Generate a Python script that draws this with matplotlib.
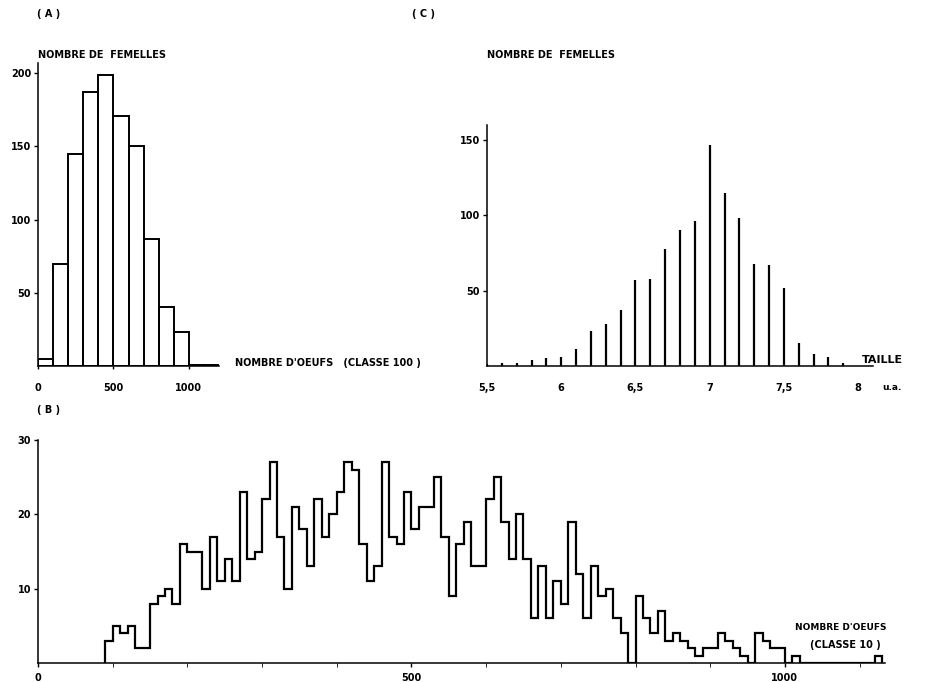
import numpy as np
import matplotlib
matplotlib.use("Agg")
import matplotlib.pyplot as plt

plt.rcParams['font.family'] = ['DejaVu Sans']
plt.rcParams['font.weight'] = 'bold'
plt.rcParams['font.size'] = 7

# (A) nombre de femelles par classe de 100 oeufs
a_edges = [0, 100, 200, 300, 400, 500, 600, 700, 800, 900, 1000, 1100]
a_counts = [5, 70, 145, 187, 199, 171, 150, 87, 40, 23, 1, 1]

# (C) nombre de femelles par taille (u.a.)
c_taille = [5.5, 5.6, 5.7, 5.8, 5.9, 6.0, 6.1, 6.2, 6.3, 6.4, 6.5, 6.6, 6.7,
            6.8, 6.9, 7.0, 7.1, 7.2, 7.3, 7.4, 7.5, 7.6, 7.7, 7.8, 7.9]
c_counts = [1, 2, 2, 4, 5, 6, 11, 23, 28, 37, 57, 58, 78,
            90, 96, 147, 115, 98, 68, 67, 52, 15, 8, 6, 2]

# (B) nombre de femelles par classe de 10 oeufs, a partir de 90 oeufs
b_start = 90
b_counts = [3, 5, 4, 5, 2, 2, 8, 9, 10, 8,
            16, 15, 15, 10, 17, 11, 14, 11, 23, 14,
            15, 22, 27, 17, 10, 21, 18, 13, 22, 17,
            20, 23, 27, 26, 16, 11, 13, 27, 17, 16,
            23, 18, 21, 21, 25, 17, 9, 16, 19, 13,
            13, 22, 25, 19, 14, 20, 14, 6, 13, 6,
            11, 8, 19, 12, 6, 13, 9, 10, 6, 4,
            0, 9, 6, 4, 7, 3, 4, 3, 2, 1,
            2, 2, 4, 3, 2, 1, 0, 4, 3, 2,
            2, 0, 1, 0, 0, 0, 0, 0, 0, 0,
            0, 0, 0, 1]

W, H = 927, 682


def box(x0, y0, x1, y1):
    # pixel box (top-left origin) -> figure fraction
    return [x0 / W, 1 - y1 / H, (x1 - x0) / W, (y1 - y0) / H]


def txt(x, y, s, **kw):
    fig.text(x / W, 1 - y / H, s, va='center', fontweight='bold', **kw)


def style(ax):
    for side in ['top', 'right']:
        ax.spines[side].set_visible(False)
    for side in ['left', 'bottom']:
        ax.spines[side].set_linewidth(1.1)
    ax.tick_params(width=1.0, length=3, labelsize=7, pad=2)


fig = plt.figure(figsize=(W / 100, H / 100), dpi=100)

# ---- (A)
ax_a = fig.add_axes(box(38, 63, 219, 366))
ax_a.bar(a_edges, a_counts, width=100, align='edge', fill=False,
         edgecolor='black', linewidth=1.4)
ax_a.set_xlim(0, 1200)
ax_a.set_ylim(0, 207)
ax_a.set_yticks([50, 100, 150, 200])
ax_a.set_xticks([0, 500, 1000])
style(ax_a)
ax_a.tick_params(axis='x', length=2, pad=10)

# ---- (C)
ax_c = fig.add_axes(box(487, 125, 873, 366))
ax_c.vlines(c_taille, 0, c_counts, color='black', linewidth=1.6)
ax_c.set_xlim(5.5, 8.1)
ax_c.set_ylim(0, 160)
ax_c.set_yticks([50, 100, 150])
ax_c.set_xticks([5.5, 6, 6.5, 7, 7.5, 8])
ax_c.set_xticklabels(['5,5', '6', '6,5', '7', '7,5', '8'])
style(ax_c)
ax_c.tick_params(axis='x', length=0, pad=12)

# ---- (B)
ax_b = fig.add_axes(box(38, 440, 885, 663))
b_edges = b_start + 10 * np.arange(len(b_counts) + 1)
ax_b.stairs(b_counts, b_edges, color='black', linewidth=1.6)
ax_b.set_xlim(0, 1134)
ax_b.set_ylim(0, 30)
ax_b.set_yticks([10, 20, 30])
ax_b.set_xticks([0, 500, 1000])
ax_b.set_xticks(np.arange(100, 1101, 100), minor=True)
style(ax_b)
ax_b.tick_params(axis='x', which='both', length=3, pad=4)

# textes
txt(37, 14, '( A )', fontsize=7)
txt(412, 14, '( C )', fontsize=7)
txt(37, 410, '( B )', fontsize=7)
txt(38, 55, 'NOMBRE DE  FEMELLES')
txt(487, 55, 'NOMBRE DE  FEMELLES')
txt(235, 363, "NOMBRE D'OEUFS   (CLASSE 100 )")
txt(862, 360, 'TAILLE', fontsize=8)
txt(882, 387, 'u.a.', fontsize=6.5)
txt(795, 627, "NOMBRE D'OEUFS", fontsize=6.5)
txt(810, 645, '(CLASSE 10 )')

fig.savefig('out.png', dpi=100)
